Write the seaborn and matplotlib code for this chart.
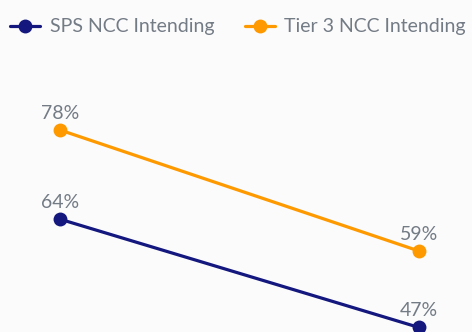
import matplotlib
matplotlib.use("Agg")
import matplotlib.pyplot as plt
import seaborn as sns
import pandas as pd

periods = ["Before", "After"]
series_names = ["SPS NCC Intending", "Tier 3 NCC Intending"]
sps_values = [64, 47]
tier3_values = [78, 59]
colors = ["#13177e", "#ff9900"]

sns.set_theme(style="white")
plt.rcParams["font.family"] = ["Lato", "DejaVu Sans"]

df = pd.DataFrame({
    "x": [0, 1, 0, 1],
    "value": sps_values + tier3_values,
    "series": [series_names[0]] * 2 + [series_names[1]] * 2,
})

fig = plt.figure(figsize=(4.72, 3.32), dpi=100)
fig.patch.set_facecolor("#fbfbfb")
ax = fig.add_axes([0, 0, 1, 1])
ax.set_facecolor("#fbfbfb")

sns.lineplot(data=df, x="x", y="value", hue="series", palette=colors,
             marker="o", markersize=10, linewidth=2.3, markeredgewidth=0,
             ax=ax, legend=False, clip_on=False)

ax.set_xlim(-0.1671, 1.1476)
ax.set_ylim(46.29, 98.41)
ax.axis("off")

for vals in (sps_values, tier3_values):
    for xi, v in enumerate(vals):
        ax.annotate(f"{v}%", (xi, v), xytext=(0, 6), textcoords="offset points",
                    ha="center", va="bottom", fontsize=14, color="#737b85")

from matplotlib.lines import Line2D
handles = [Line2D([], [], color=c, marker="o", markersize=10, linewidth=2.3,
                  markeredgewidth=0) for c in colors]
fig.legend(handles, series_names, loc="center left", bbox_to_anchor=(10 / 472, 0.919),
           ncol=2, frameon=False, fontsize=14, labelcolor="#737b85",
           handlelength=1.55, handletextpad=0.5, columnspacing=1.55,
           borderaxespad=0, borderpad=0)

fig.savefig("out.png", dpi=100, facecolor=fig.get_facecolor())
